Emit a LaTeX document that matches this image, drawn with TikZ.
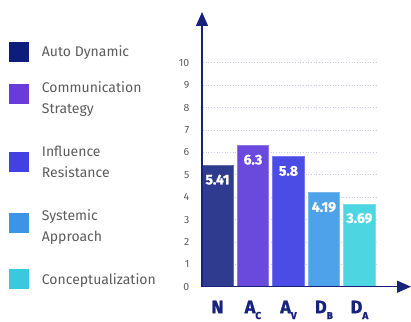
\documentclass[tikz,border=0pt]{standalone}
\usepackage{fontspec}
\setmainfont{Fira Sans}
\newfontfamily\heavyfont{Fira Sans}[UprightFont={* Bold},FakeBold=1.2]
\usetikzlibrary{arrows.meta}
\definecolor{axisc}{HTML}{16227C}
\definecolor{gridc}{HTML}{C9C9EE}
\definecolor{txtc}{HTML}{5C5C5C}
\definecolor{lgA}{HTML}{0E1C7A}
\definecolor{lgB}{HTML}{6A3BDB}
\definecolor{lgC}{HTML}{4141E4}
\definecolor{lgD}{HTML}{3C94E5}
\definecolor{lgE}{HTML}{39C9DE}
\definecolor{brA}{HTML}{2F3B8E}
\definecolor{brB}{HTML}{6A4ADC}
\definecolor{brC}{HTML}{4B4BE6}
\definecolor{brD}{HTML}{4DA2EA}
\definecolor{brE}{HTML}{4DD6E2}
\newcommand{\catsub}[1]{\raisebox{-5.8pt}{\fontsize{10}{10}\selectfont #1}}
\begin{document}
\begin{tikzpicture}[x=1pt,y=-1pt,
  lgsq/.style={minimum size=20pt,inner sep=0pt,outer sep=0pt},
  lgtxt/.style={anchor=base west,inner sep=0pt,align=left,text=txtc,
    font=\fontsize{14}{21.4}\selectfont},
  ticklab/.style={anchor=east,inner sep=0pt,text=txtc,font=\fontsize{10.5}{12}\selectfont},
  gridln/.style={gridc,dotted,line width=0.7pt},
  barbox/.style={anchor=south west,inner sep=0pt,outer sep=0pt,minimum width=31.5pt,line width=1pt},
  vallab/.style={anchor=north,inner sep=0pt,text=white,font=\heavyfont\fontsize{14}{16}\selectfont},
  catlab/.style={anchor=base,inner sep=0pt,text=axisc,font=\heavyfont\fontsize{18}{20}\selectfont},
  axisln/.style={axisc,line width=1.3pt,-{Triangle[length=14pt,width=12pt]}}
]
\useasboundingbox (0,0) rectangle (411,321);
% legend
\node[lgsq,fill=lgA] (sqA) at (19,52) {};
\node[lgsq,fill=lgB] (sqB) at (19,94) {};
\node[lgsq,fill=lgC] (sqC) at (19,162) {};
\node[lgsq,fill=lgD] (sqD) at (19,222.7) {};
\node[lgsq,fill=lgE] (sqE) at (19,278.7) {};
\node[lgtxt] (tA) at (41.7,56.8) {Auto Dynamic};
\node[lgtxt] (tB) at (41.7,113.7) {Communication\\Strategy};
\node[lgtxt] (tC) at (41.7,177.4) {Influence\\Resistance};
\node[lgtxt] (tD) at (41.7,241.4) {Systemic\\Approach};
\node[lgtxt] (tE) at (41.7,284) {Conceptualization};
% grid and ticks
\foreach \k in {0,...,10}{
  \node[ticklab] (tk\k) at (189.5,{286.7-22.4*\k}) {\k};
}
\foreach \k in {1,...,10}{
  \draw[gridln] (203,{286.7-22.4*\k}) -- (377,{286.7-22.4*\k});
}
% bars
\node[barbox,fill=brA,draw=brA!75!white,minimum height={5.41*22.4pt}] (bN) at (201.7,286.7) {};
\node[barbox,fill=brB,draw=brB!75!white,minimum height={6.3*22.4pt}] (bAC) at (237.2,286.7) {};
\node[barbox,fill=brC,draw=brC!75!white,minimum height={5.8*22.4pt}] (bAV) at (272.7,286.7) {};
\node[barbox,fill=brD,draw=brD!75!white,minimum height={4.19*22.4pt}] (bDB) at (308.2,286.7) {};
\node[barbox,fill=brE,draw=brE!75!white,minimum height={3.69*22.4pt}] (bDA) at (343.7,286.7) {};
\node[vallab] (vN) at ([yshift=-9pt]bN.north) {5.41};
\node[vallab] (vAC) at ([yshift=-9pt]bAC.north) {6.3};
\node[vallab] (vAV) at ([yshift=-9pt]bAV.north) {5.8};
\node[vallab] (vDB) at ([yshift=-9pt]bDB.north) {4.19};
\node[vallab] (vDA) at ([yshift=-9pt]bDA.north) {3.69};
% axes
\coordinate (O) at (202,286.7);
\coordinate (ytip) at (202,12);
\coordinate (xtip) at (411,286.7);
\draw[axisln] (O) -- (ytip);
\draw[axisln] (O) -- (xtip);
% category labels
\node[catlab] (cN) at ([yshift=-26.5pt]bN.south) {N};
\node[catlab] (cAC) at ([yshift=-26.5pt]bAC.south) {A\catsub{C}};
\node[catlab] (cAV) at ([yshift=-26.5pt]bAV.south) {A\catsub{V}};
\node[catlab] (cDB) at ([yshift=-26.5pt]bDB.south) {D\catsub{B}};
\node[catlab] (cDA) at ([yshift=-26.5pt]bDA.south) {D\catsub{A}};
\end{tikzpicture}
\end{document}
